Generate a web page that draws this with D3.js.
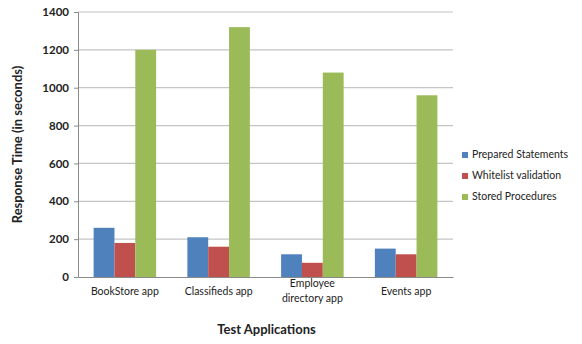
<!DOCTYPE html>
<html lang="en">
<head>
<meta charset="UTF-8" />
<script src="https://d3js.org/d3.v7.min.js"></script>
<style>
  body { margin: 0; background: #fff; }
  text { font-family: Lato, "Open Sans", sans-serif; fill: #222; }
</style>
</head>
<body>
<script>
const width = 582, height = 344;

// chart data
const categories = ["BookStore app", "Classifieds app", "Employee directory app", "Events app"];
const seriesNames = ["Prepared Statements", "Whitelist validation", "Stored Procedures"];
const prepared = [260, 210, 120, 150];
const whitelist = [180, 160, 75, 120];
const stored = [1200, 1320, 1080, 960];
const yTicks = [0, 200, 400, 600, 800, 1000, 1200, 1400];
const colors = ["#4f81bd", "#c0504d", "#9bbb59"];

const values = [prepared, whitelist, stored];

const margin = {left: 78, right: 129, top: 12, bottom: 67};

const svg = d3.select("body").append("svg")
  .attr("width", width).attr("height", height);

const x = d3.scaleBand().domain(categories)
  .range([margin.left, width - margin.right]);
const y = d3.scaleLinear().domain([0, 1400])
  .range([height - margin.bottom, margin.top]);

const barW = x.bandwidth() / 4.5;

// gridlines
svg.append("g")
  .selectAll("line")
  .data(yTicks.filter(d => d > 0))
  .join("line")
  .attr("x1", margin.left).attr("x2", width - margin.right)
  .attr("y1", d => y(d)).attr("y2", d => y(d))
  .attr("stroke", "#c4c4c4").attr("stroke-width", 1.2);

// bars
categories.forEach((c, ci) => {
  const x0 = x(c) + (x.bandwidth() - 3 * barW) / 2;
  svg.append("g").selectAll("rect")
    .data(values.map(v => v[ci]))
    .join("rect")
    .attr("x", (d, i) => x0 + i * barW)
    .attr("width", barW)
    .attr("y", d => y(d))
    .attr("height", d => y(0) - y(d))
    .attr("fill", (d, i) => colors[i]);
});

// y axis
const yAxis = svg.append("g")
  .attr("transform", `translate(${margin.left},0)`)
  .call(d3.axisLeft(y).tickValues(yTicks).tickFormat(d3.format("d")).tickSize(4).tickPadding(5));
yAxis.select(".domain").attr("stroke", "#8a8a8a");
yAxis.selectAll(".tick line").attr("stroke", "#8a8a8a");
yAxis.selectAll("text")
  .style("font-size", "11.5px").style("font-weight", "bold").attr("fill", "#222");

// x axis
const xAxis = svg.append("g")
  .attr("transform", `translate(0,${y(0)})`)
  .call(d3.axisBottom(x).tickSize(0).tickPadding(11));
xAxis.select(".domain").attr("stroke", "#8a8a8a");
xAxis.selectAll(".tick text")
  .style("font-size", "10.5px").attr("fill", "#222")
  .each(function(d) {
    if (d === "Employee directory app") {
      const t = d3.select(this).text(null);
      t.append("tspan").attr("x", 0).attr("dy", "-0.05em").text("Employee");
      t.append("tspan").attr("x", 0).attr("dy", "1.35em").text("directory app");
    }
  });

// axis titles
svg.append("text")
  .attr("transform", `translate(19,${(y(0) + y(1400)) / 2}) rotate(-90)`)
  .attr("text-anchor", "middle").attr("dominant-baseline", "middle")
  .style("font-size", "13px").style("font-weight", "bold")
  .text("Response Time (in seconds)");

svg.append("text")
  .attr("x", x.range()[0] + (x.range()[1] - x.range()[0]) / 2 + 1)
  .attr("y", 331)
  .attr("text-anchor", "middle").attr("dominant-baseline", "middle")
  .style("font-size", "13px").style("font-weight", "bold")
  .text("Test Applications");

// legend
const legend = svg.append("g")
  .selectAll("g")
  .data(seriesNames)
  .join("g")
  .attr("transform", (d, i) => `translate(462,${155 + i * 21})`);
legend.append("rect")
  .attr("x", 0).attr("y", -3).attr("width", 6).attr("height", 6)
  .attr("fill", (d, i) => colors[i]);
legend.append("text")
  .attr("x", 10).attr("y", 0).attr("dominant-baseline", "middle")
  .style("font-size", "10.5px")
  .text(d => d);
</script>
</body>
</html>
